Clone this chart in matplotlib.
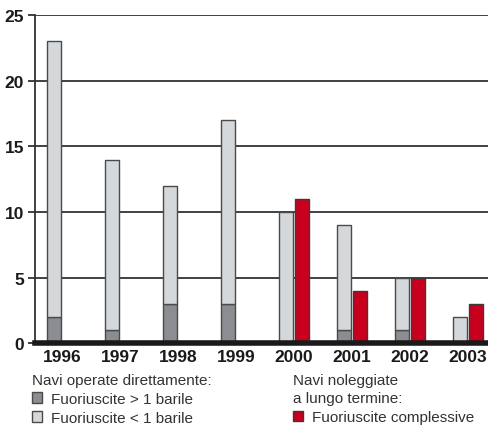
import numpy as np
import matplotlib.pyplot as plt
from matplotlib.patches import Patch

plt.rcParams['font.family'] = ['Liberation Sans', 'DejaVu Sans']

years = ['1996', '1997', '1998', '1999', '2000', '2001', '2002', '2003']
gt1 = [2, 1, 3, 3, 0, 1, 1, 0]          # Fuoriuscite > 1 barile
lt1 = [21, 13, 9, 14, 10, 8, 4, 2]      # Fuoriuscite < 1 barile
total_charter = [np.nan, np.nan, np.nan, np.nan, 11, 4, 5, 3]  # noleggiate

c_dark = '#8b8d92'
c_light = '#d5d8db'
c_red = '#c8001e'
c_edge = '#4a4a4a'

fig = plt.figure(figsize=(4.88, 4.27), dpi=100)
ax = fig.add_axes([0.0717, 0.194, 0.9283, 0.768])

x = np.arange(len(years))
w = 0.24
off = 0.14
ax.bar(x - off, gt1, w, color=c_dark, edgecolor=c_edge, linewidth=1, zorder=3)
ax.bar(x - off, lt1, w, bottom=gt1, color=c_light, edgecolor=c_edge, linewidth=1, zorder=3)
ax.bar(x + off, total_charter, w, color=c_red, edgecolor='#3a3a3a', linewidth=1, zorder=3)

ax.set_xlim(-0.466, 7.345)
ax.set_ylim(0, 25)
ax.set_yticks([0, 5, 10, 15, 20, 25])
ax.set_xticks(x)
ax.set_xticklabels(years)
for lab in ax.get_xticklabels() + ax.get_yticklabels():
    lab.set_fontweight('bold')
    lab.set_fontsize(12.5)
    lab.set_color('#1a1a1a')

ax.yaxis.grid(True, color='#333333', linewidth=1.3, zorder=1)
ax.set_axisbelow(True)
for s in ['top', 'right']:
    ax.spines[s].set_visible(False)
ax.spines['left'].set_color('#333333')
ax.spines['left'].set_linewidth(1.3)
ax.spines['bottom'].set_color('#1a1a1a')
ax.spines['bottom'].set_linewidth(4)
ax.spines['bottom'].set_zorder(5)
ax.tick_params(axis='y', length=5, width=1.3, color='#333333', pad=3)
ax.tick_params(axis='x', length=0, pad=4)

h1 = [Patch(facecolor=c_dark, edgecolor=c_edge, label='Fuoriuscite > 1 barile'),
      Patch(facecolor=c_light, edgecolor=c_edge, label='Fuoriuscite < 1 barile')]
leg1 = fig.legend(handles=h1, title='Navi operate direttamente:', loc='upper left',
                  bbox_to_anchor=(0.066, 0.124), frameon=False, fontsize=11,
                  title_fontsize=11, handlelength=0.65, handleheight=0.65,
                  handletextpad=0.6, borderpad=0, labelspacing=0.32,
                  alignment='left', borderaxespad=0)
h2 = [Patch(facecolor=c_red, edgecolor='#3a3a3a', label='Fuoriuscite complessive')]
leg2 = fig.legend(handles=h2, title='Navi noleggiate\na lungo termine:', loc='upper left',
                  bbox_to_anchor=(0.601, 0.124), frameon=False, fontsize=11,
                  title_fontsize=11, handlelength=0.65, handleheight=0.65,
                  handletextpad=0.6, borderpad=0, labelspacing=0.32,
                  alignment='left', borderaxespad=0)
for leg in (leg1, leg2):
    for t in leg.get_texts() + [leg.get_title()]:
        t.set_color('#333333')
    leg.get_title().set_linespacing(1.38)

fig.savefig('out.png', dpi=100)
